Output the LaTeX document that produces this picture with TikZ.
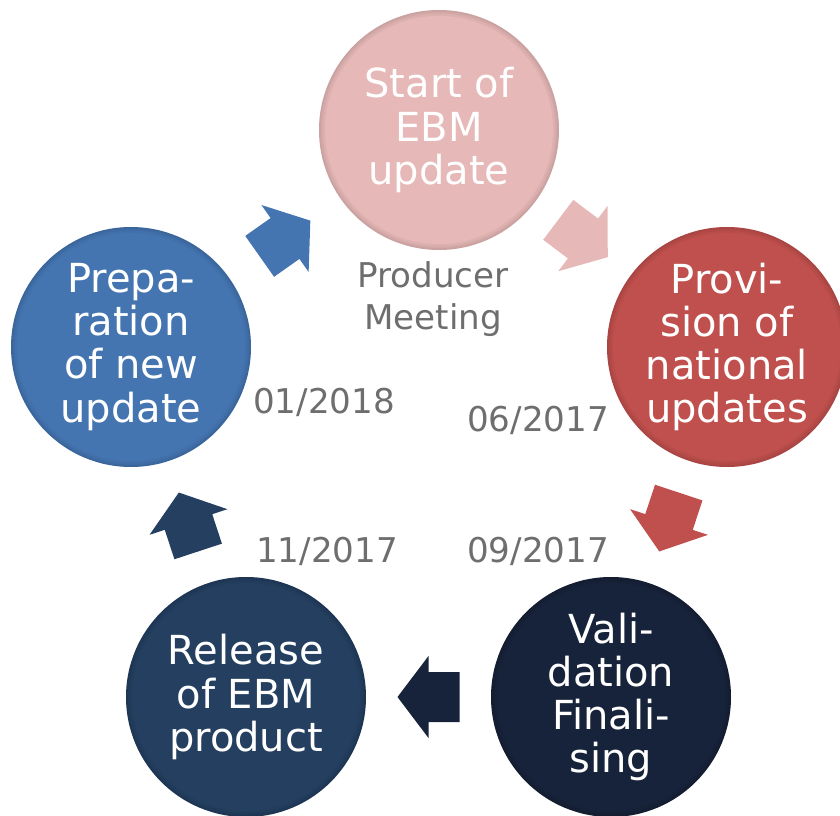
\documentclass[tikz,border=0pt]{standalone}
\usepackage{fontspec}
\setmainfont{DejaVu Sans}
\usepackage{xcolor}
\usetikzlibrary{calc}

\definecolor{startpink}{HTML}{E6B8B7}
\definecolor{provred}{HTML}{C0504D}
\definecolor{validnavy}{HTML}{17233A}
\definecolor{releaseblue}{HTML}{243F60}
\definecolor{prepblue}{HTML}{4475B1}
\definecolor{labelgray}{HTML}{6E6E6E}

\begin{document}
\begin{tikzpicture}[x=0.85pt, y=-0.85pt,
  phase/.style={circle, minimum size=204pt, inner sep=0pt, text=white, align=center,
    font=\fontsize{34}{36.6}\selectfont,
    path picture={
      \draw[black, opacity=0.04, line width=3pt] (path picture bounding box.center) circle [radius=102pt];
      \draw[black, opacity=0.04, line width=6pt] (path picture bounding box.center) circle [radius=102pt];
      \draw[black, opacity=0.04, line width=10pt] (path picture bounding box.center) circle [radius=102pt];
    }},
  datelabel/.style={text=labelgray, align=center, font=\fontsize{29}{35.7}\selectfont}]
  \useasboundingbox (0,0) rectangle (840,816);

  % the five phases
  \node[phase, fill=startpink] (start) at (439,130) {Start of\\EBM\\update};
  \node[phase, fill=provred] (provision) at (727,347) {Provi-\\sion of\\national\\updates};
  \node[phase, fill=validnavy] (validation) at (611,697) {Vali-\\dation\\Finali-\\sing};
  \node[phase, fill=releaseblue] (release) at (246,697) {Release\\of EBM\\product};
  \node[phase, fill=prepblue] (preparation) at (131,347) {Prepa-\\ration\\of new\\update};

  % block arrows between the phases
  \begin{scope}[shift={($(start)!0.5!(provision)$)}, rotate=-37]
    \fill[startpink] (-31,-25) -- (0,-25) -- (0,-41) -- (31,0) -- (0,41) -- (0,25) -- (-31,25) -- cycle;
  \end{scope}
  \begin{scope}[shift={($(provision)!0.5!(validation)$)}, rotate=-108.3]
    \fill[provred] (-31,-25) -- (0,-25) -- (0,-41) -- (31,0) -- (0,41) -- (0,25) -- (-31,25) -- cycle;
  \end{scope}
  \begin{scope}[shift={($(validation)!0.5!(release)$)}, rotate=180]
    \fill[validnavy] (-31,-25) -- (0,-25) -- (0,-41) -- (31,0) -- (0,41) -- (0,25) -- (-31,25) -- cycle;
  \end{scope}
  \begin{scope}[shift={($(release)!0.5!(preparation)$)}, rotate=108.2]
    \fill[releaseblue] (-31,-25) -- (0,-25) -- (0,-41) -- (31,0) -- (0,41) -- (0,25) -- (-31,25) -- cycle;
  \end{scope}
  \begin{scope}[shift={($(preparation)!0.5!(start)$)}, rotate=35.2]
    \fill[prepblue] (-31,-25) -- (0,-25) -- (0,-41) -- (31,0) -- (0,41) -- (0,25) -- (-31,25) -- cycle;
  \end{scope}

  % gray labels
  \node[datelabel] (meeting) at (433,299) {Producer\\Meeting};
  \node[datelabel] (jan18) at (324,402) {01/2018};
  \node[datelabel] (jun17) at (538,420) {06/2017};
  \node[datelabel] (sep17) at (538,551) {09/2017};
  \node[datelabel] (nov17) at (327,551) {11/2017};
\end{tikzpicture}
\end{document}
